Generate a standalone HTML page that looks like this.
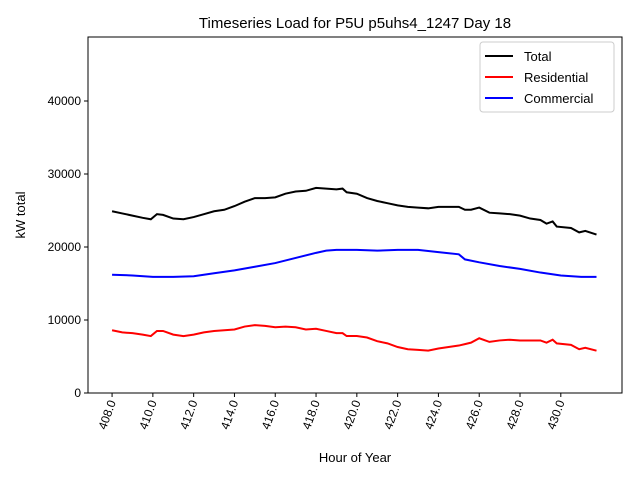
<!DOCTYPE html>
<html><head><meta charset="utf-8"><style>
body{margin:0;background:#fff;font-family:"Liberation Sans","DejaVu Sans",sans-serif}
</style></head><body>
<svg id="c" width="640" height="480" xmlns="http://www.w3.org/2000/svg"></svg>
<script>
const hours=[408,408.5,409,409.5,409.9,410.2,410.5,411,411.5,412,412.5,413,413.5,414,414.5,415,415.5,416,416.5,417,417.5,418,418.5,419,419.3,419.5,420,420.5,421,421.5,422,422.5,423,423.5,424,424.5,425,425.3,425.6,426,426.5,427,427.5,428,428.5,429,429.3,429.6,429.8,430.5,430.9,431.2,431.75];
const total=[24900,24600,24300,24000,23800,24500,24400,23900,23800,24100,24500,24900,25100,25600,26200,26700,26700,26800,27300,27600,27700,28100,28000,27900,28000,27500,27300,26700,26300,26000,25700,25500,25400,25300,25500,25500,25500,25100,25100,25400,24700,24600,24500,24300,23900,23700,23200,23500,22800,22600,22000,22200,21700];
const residential=[8600,8300,8200,8000,7800,8500,8500,8000,7800,8000,8300,8500,8600,8700,9100,9300,9200,9000,9100,9000,8700,8800,8500,8200,8200,7800,7800,7600,7100,6800,6300,6000,5900,5800,6100,6300,6500,6700,6900,7500,7000,7200,7300,7200,7200,7200,6900,7300,6800,6600,6000,6200,5800];
const comHours=[408,409,410,411,412,413,414,415,416,417,418,418.5,419,420,421,422,423,424,425,425.3,426,427,428,429,430,431,431.75];
const commercial=[16200,16100,15900,15900,16000,16400,16800,17300,17800,18500,19200,19500,19600,19600,19500,19600,19600,19300,19000,18300,17900,17400,17000,16500,16100,15900,15900];
const yTicks=[0,10000,20000,30000,40000];
const xTicks=[408,410,412,414,416,418,420,422,424,426,428,430];
const L=88,R=622,T=37,B=393;
const xMin=406.82,xMax=433.0,yMin=0,yMax=48767;
const X=h=>L+(h-xMin)/(xMax-xMin)*(R-L);
const Y=v=>B-(v-yMin)/(yMax-yMin)*(B-T);
const svg=document.getElementById('c');
const NS='http://www.w3.org/2000/svg';
function mk(t,a,p){const e=document.createElementNS(NS,t);for(const k in a)e.setAttribute(k,a[k]);(p||svg).appendChild(e);return e;}
let e=mk('rect',{x:L,y:T,width:R-L,height:B-T,fill:'none',stroke:'#000','stroke-width':1});


yTicks.forEach(v=>{
 const y=Y(v);
 mk('line',{x1:L-4,x2:L,y1:y,y2:y,stroke:'#000'});
 const t=mk('text',{x:L-7,y:y+4,'text-anchor':'end','font-size':12});
 t.textContent=v;
 
 
});
xTicks.forEach(h=>{
 const x=X(h);
 mk('line',{x1:x,x2:x,y1:B,y2:B+4,stroke:'#000'});
 const t=mk('text',{x:0,y:0,'text-anchor':'end','font-size':12,transform:`translate(${x+4},${B+9}) rotate(-70)`});
 t.textContent=h.toFixed(1);
 
 
});
function line(xs,vs,c,name){
 const p=mk('polyline',{points:xs.map((h,i)=>X(h)+','+Y(vs[i])).join(' '),fill:'none',stroke:c,'stroke-width':2});
 
 
}
line(hours,total,'#000','total-line');
line(hours,residential,'red','residential-line');
line(comHours,commercial,'blue','commercial-line');
let t=mk('text',{x:355,y:28,'text-anchor':'middle','font-size':15});t.textContent='Timeseries Load for P5U p5uhs4_1247  Day 18';


t=mk('text',{x:355,y:462,'text-anchor':'middle','font-size':13});t.textContent='Hour of Year';


t=mk('text',{x:0,y:0,'text-anchor':'middle','font-size':13,transform:'translate(25,215) rotate(-90)'});t.textContent='kW total';


const lg=mk('g',{});


mk('rect',{x:480,y:42,width:134,height:70,rx:3,fill:'#fff',stroke:'#ccc'},lg);
[['Total','#000'],['Residential','red'],['Commercial','blue']].forEach((d,i)=>{
 const y=56+i*21;
 mk('line',{x1:485,x2:513,y1:y,y2:y,stroke:d[1],'stroke-width':2},lg);
 const tt=mk('text',{x:524,y:y+5,'font-size':13},lg);tt.textContent=d[0];
 
 
});
</script>
</body></html>
